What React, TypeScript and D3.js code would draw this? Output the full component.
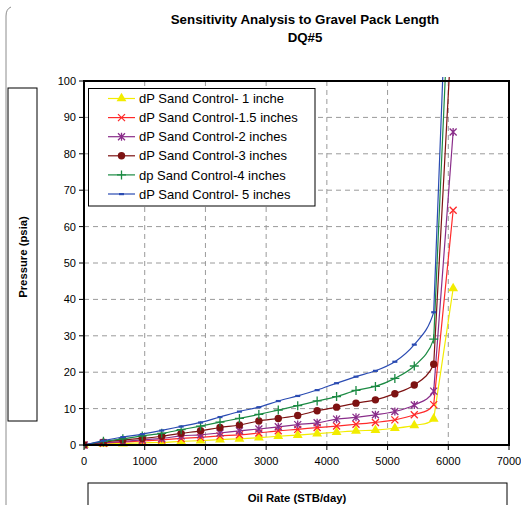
import React from "react";
import * as d3 from "d3";

// Oil rate steps (STB/day)
const oilRate = [
  0, 320, 640, 960, 1280, 1600, 1920, 2240, 2560, 2880, 3200, 3520, 3840, 4160,
  4480, 4800, 5120, 5440, 5760, 6080,
];

// Pressure drop across sand control (psia) per gravel pack length
const dp1in = [0, 0.3, 0.4, 0.6, 0.7, 1.0, 1.2, 1.5, 1.7, 2.0, 2.4, 2.7, 3.1, 3.5, 3.9, 4.1, 4.6, 5.4, 7.2, 43];
const dp15in = [0, 0.5, 0.8, 1.1, 1.4, 1.8, 2.1, 2.5, 2.8, 3.3, 3.9, 4.3, 4.8, 5.2, 5.7, 6.2, 6.9, 8.3, 11.1, 64.5];
const dp2in = [0, 0.6, 1.0, 1.4, 1.8, 2.5, 2.8, 3.3, 3.9, 4.4, 5.0, 5.6, 6.1, 7.1, 7.6, 8.3, 9.2, 11.0, 14.8, 86];
const dp3in = [0, 0.8, 1.4, 1.8, 2.4, 3.2, 3.9, 4.8, 5.5, 6.6, 7.3, 8.1, 9.4, 10.4, 11.5, 12.4, 14.1, 16.5, 22.2, 121];
const dp4in = [0, 1.0, 1.7, 2.5, 3.2, 4.2, 5.2, 6.3, 7.3, 8.4, 9.6, 10.8, 12.1, 13.3, 15.0, 16.1, 18.3, 21.7, 29.1, 150];
const dp5in = [0, 1.2, 2.2, 3.0, 4.0, 5.1, 6.2, 7.7, 9.2, 10.4, 12.1, 13.5, 15.1, 17.0, 18.8, 20.4, 22.9, 27.6, 36.5, 175];

const seriesNames = [
  "dP Sand Control- 1 inche",
  "dP Sand Control-1.5 inches",
  "dP Sand Control-2 inches",
  "dP Sand Control-3 inches",
  "dp Sand Control-4 inches",
  "dP Sand Control- 5 inches",
];
const seriesValues = [dp1in, dp15in, dp2in, dp3in, dp4in, dp5in];
const seriesColors = ["#f2ec00", "#ff2a2a", "#8a2d8a", "#7d1212", "#1b8a43", "#2a4bb2"];
const seriesMarkers = ["triangle", "x", "star", "circle", "plus", "dash"];

const xTicks = [0, 1000, 2000, 3000, 4000, 5000, 6000, 7000];
const yTicks = [0, 10, 20, 30, 40, 50, 60, 70, 80, 90, 100];

const W = 521;
const H = 505;
const plot = { left: 84, top: 81, right: 509, bottom: 445 };
const FONT = "'Liberation Sans', Arial, sans-serif";

// Centripetal Catmull-Rom through all points except the last, which is joined
// with a straight segment (the steep run-away past the critical rate).
function smoothPath(pts: [number, number][]): string {
  const p = d3.path();
  const n = pts.length;
  const alpha = 0.5;
  p.moveTo(pts[0][0], pts[0][1]);
  const dist = (a: [number, number], b: [number, number]) => Math.hypot(b[0] - a[0], b[1] - a[1]);
  for (let i = 0; i < n - 2; i++) {
    const p0 = pts[Math.max(0, i - 1)];
    const p1 = pts[i];
    const p2 = pts[i + 1];
    const p3 = pts[Math.min(n - 1, i + 2)];
    const l01 = dist(p0, p1), l12 = dist(p1, p2), l23 = dist(p2, p3);
    const l01a = Math.pow(l01, alpha), l12a = Math.pow(l12, alpha), l23a = Math.pow(l23, alpha);
    const l01_2a = l01, l12_2a = l12, l23_2a = l23;
    let c1: [number, number] = [p1[0], p1[1]];
    let c2: [number, number] = [p2[0], p2[1]];
    if (l01a > 1e-9) {
      const a = 2 * l01_2a + 3 * l01a * l12a + l12_2a;
      const m = 3 * l01a * (l01a + l12a);
      c1 = [
        (p1[0] * a - p0[0] * l12_2a + p2[0] * l01_2a) / m,
        (p1[1] * a - p0[1] * l12_2a + p2[1] * l01_2a) / m,
      ];
    } else {
      c1 = [p1[0] + (p2[0] - p1[0]) / 3, p1[1] + (p2[1] - p1[1]) / 3];
    }
    if (l23a > 1e-9) {
      const b = 2 * l23_2a + 3 * l23a * l12a + l12_2a;
      const m = 3 * l23a * (l23a + l12a);
      c2 = [
        (p2[0] * b + p1[0] * l23_2a - p3[0] * l12_2a) / m,
        (p2[1] * b + p1[1] * l23_2a - p3[1] * l12_2a) / m,
      ];
    }
    p.bezierCurveTo(c1[0], c1[1], c2[0], c2[1], p2[0], p2[1]);
  }
  p.lineTo(pts[n - 1][0], pts[n - 1][1]);
  return p.toString();
}

function Marker({ kind, color, x, y }: { kind: string; color: string; x: number; y: number }) {
  const t = `translate(${x},${y})`;
  switch (kind) {
    case "triangle":
      return <path transform={t} d={d3.symbol(d3.symbolTriangle, 42)() || ""} fill={color} />;
    case "x":
      return (
        <path transform={t} d="M-3.5,-3.5L3.5,3.5M-3.5,3.5L3.5,-3.5" stroke={color} strokeWidth={1.3} fill="none" />
      );
    case "star":
      return (
        <path
          transform={t}
          d="M-3.5,-3.5L3.5,3.5M-3.5,3.5L3.5,-3.5M0,-4L0,4"
          stroke={color}
          strokeWidth={1.3}
          fill="none"
        />
      );
    case "circle":
      return <circle cx={x} cy={y} r={3.7} fill={color} />;
    case "plus":
      return <path transform={t} d="M-4.5,0L4.5,0M0,-4.5L0,4.5" stroke={color} strokeWidth={1.3} fill="none" />;
    default:
      return <rect x={x - 2.5} y={y - 1} width={5} height={2.2} fill={color} />;
  }
}

export default function App() {
  const x = d3.scaleLinear().domain([0, 7000]).range([plot.left, plot.right]);
  const y = d3.scaleLinear().domain([0, 100]).range([plot.bottom, plot.top]);

  const legend = { x: 88.5, y: 88.5, w: 226.5, h: 117.5 };

  return (
    <svg
      width={W}
      height={H}
      style={{ position: "absolute", left: 0, top: 0, background: "#fff" }}
      fontFamily={FONT}
    >
      <defs>
        <clipPath id="plotClip">
          <rect x={plot.left} y={plot.top - 4} width={plot.right - plot.left} height={plot.bottom - plot.top + 8} />
        </clipPath>
      </defs>
      <rect width={W} height={H} fill="#fff" />

      {/* outer chart frame edge */}
      <path d={`M6,${H}L6,16Q6,9 11,7`} fill="none" stroke="#8c8c8c" strokeWidth={1} />

      {/* title */}
      <text x={305} y={24} textAnchor="middle" fontSize={13.3} fontWeight="bold">
        Sensitivity Analysis to Gravel Pack Length
      </text>
      <text x={305} y={42} textAnchor="middle" fontSize={13.3} fontWeight="bold">
        DQ#5
      </text>

      {/* gridlines */}
      {yTicks.slice(1, -1).map((v) => (
        <line
          key={"gy" + v}
          x1={plot.left}
          x2={plot.right}
          y1={y(v)}
          y2={y(v)}
          stroke="#9a9a9a"
          strokeDasharray="5,4"
        />
      ))}
      {xTicks.slice(1, -1).map((v) => (
        <line
          key={"gx" + v}
          x1={x(v)}
          x2={x(v)}
          y1={plot.top}
          y2={plot.bottom}
          stroke="#9a9a9a"
          strokeDasharray="5,4"
        />
      ))}

      {/* axis ticks and labels */}
      {yTicks.map((v) => (
        <g key={"ty" + v}>
          <line x1={plot.left - 5} x2={plot.left} y1={y(v)} y2={y(v)} stroke="#000" />
          <text x={plot.left - 8} y={y(v) + 4} textAnchor="end" fontSize={11}>
            {v}
          </text>
        </g>
      ))}
      {xTicks.map((v) => (
        <g key={"tx" + v}>
          <line x1={x(v)} x2={x(v)} y1={plot.bottom} y2={plot.bottom + 5} stroke="#000" />
          <text x={x(v)} y={plot.bottom + 20} textAnchor="middle" fontSize={11}>
            {v}
          </text>
        </g>
      ))}

      {/* series */}
      <g clipPath="url(#plotClip)">
        {seriesValues.map((vals, s) => (
          <g key={"s" + s}>
            <path
              d={smoothPath(vals.map((v, i) => [x(oilRate[i]), y(v)] as [number, number]))}
              fill="none"
              stroke={seriesColors[s]}
              strokeWidth={1.2}
            />
            {vals.map((v, i) =>
              v <= 100 ? (
                <Marker key={i} kind={seriesMarkers[s]} color={seriesColors[s]} x={x(oilRate[i])} y={y(v)} />
              ) : null
            )}
          </g>
        ))}
      </g>

      {/* plot frame */}
      <rect
        x={plot.left}
        y={plot.top}
        width={plot.right - plot.left}
        height={plot.bottom - plot.top}
        fill="none"
        stroke="#000"
        strokeWidth={2}
      />

      {/* legend */}
      <rect x={legend.x} y={legend.y} width={legend.w} height={legend.h} fill="#fff" stroke="#000" strokeWidth={1} />
      {seriesNames.map((name, s) => {
        const ly = 98.5 + s * 19.1;
        return (
          <g key={"l" + s}>
            <line x1={108} x2={135} y1={ly} y2={ly} stroke={seriesColors[s]} strokeWidth={1.2} />
            <Marker kind={seriesMarkers[s]} color={seriesColors[s]} x={121.5} y={ly} />
            <text x={139} y={ly + 4.6} fontSize={13}>
              {name}
            </text>
          </g>
        );
      })}

      {/* axis titles */}
      <rect x={8} y={88} width={29} height={333} fill="#fff" stroke="#000" strokeWidth={1} />
      <text
        transform={`translate(27,257) rotate(-90)`}
        textAnchor="middle"
        fontSize={11.3}
        fontWeight="bold"
      >
        Pressure (psia)
      </text>
      <rect x={88} y={483} width={419} height={30} fill="#fff" stroke="#000" strokeWidth={1} />
      <text x={297} y={502} textAnchor="middle" fontSize={11.3} fontWeight="bold">
        Oil Rate (STB/day)
      </text>
    </svg>
  );
}
